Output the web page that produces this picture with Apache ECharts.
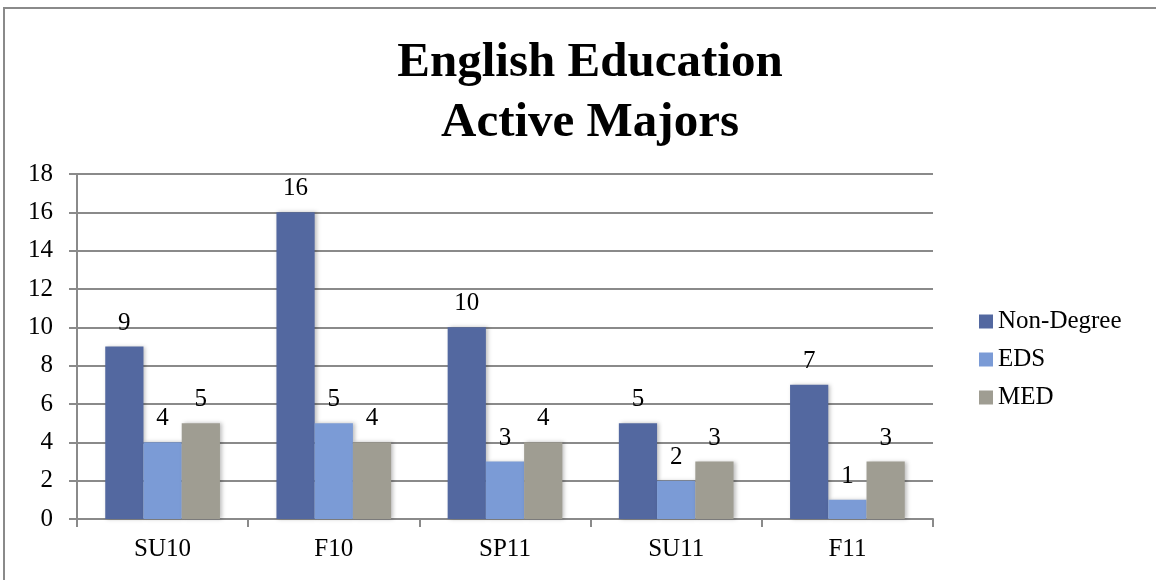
<!DOCTYPE html>
<html>
<head>
<meta charset="utf-8">
<script src="https://cdn.jsdelivr.net/npm/echarts@6/dist/echarts.min.js"></script>
<style>html,body{margin:0;padding:0;background:#fff}#c{width:1156px;height:580px}</style>
</head>
<body>
<div id="c"></div>
<script>
const categories = ['SU10', 'F10', 'SP11', 'SU11', 'F11'];
const nonDegree = [9, 16, 10, 5, 7];
const eds = [4, 5, 3, 2, 1];
const med = [5, 4, 4, 3, 3];
const seriesNames = ['Non-Degree', 'EDS', 'MED'];
const yTicks = {min: 0, max: 18, interval: 2};

const font = 'Liberation Serif';
const colors = ['#5368a0', '#7b9bd6', '#9f9d92'];
const chart = echarts.init(document.getElementById('c'));
const mk = (name, data, color) => ({
  name, type: 'bar', data, barGap: '0%', barCategoryGap: '33%',
  itemStyle: {color, shadowColor: 'rgba(0,0,0,0.25)', shadowBlur: 4, shadowOffsetX: 2, shadowOffsetY: 0},
  label: {show: true, position: 'top', distance: 11, color: '#000', fontFamily: font, fontSize: 25},
  emphasis: {disabled: true}
});
chart.setOption({
  animation: false,
  color: colors,
  textStyle: {fontFamily: font},
  title: {
    text: 'English Education\nActive Majors', left: 585, textAlign: 'center', top: 28,
    textStyle: {fontFamily: font, fontWeight: 'bold', fontSize: 49, lineHeight: 60, color: '#000'}
  },
  legend: {
    orient: 'vertical', left: 974, top: 304, itemWidth: 14, itemHeight: 14, itemGap: 13,
    icon: 'rect', data: seriesNames,
    textStyle: {fontFamily: font, fontSize: 25, color: '#000'}
  },
  graphic: [{type: 'rect', shape: {x: 4, y: 8, width: 1170, height: 590}, style: {fill: null, stroke: '#8a8a8a', lineWidth: 2}, z: 100}],
  grid: {left: 77, right: 223, top: 174, bottom: 61},
  xAxis: {
    type: 'category', data: categories,
    axisLine: {lineStyle: {color: '#8a8a8a', width: 2}},
    axisTick: {show: true, length: 8, lineStyle: {color: '#8a8a8a', width: 2}},
    axisLabel: {fontFamily: font, fontSize: 25, color: '#000', margin: 18}
  },
  yAxis: {
    type: 'value', min: yTicks.min, max: yTicks.max, interval: yTicks.interval,
    axisLine: {show: true, lineStyle: {color: '#8a8a8a', width: 2}},
    axisTick: {show: true, length: 8, lineStyle: {color: '#8a8a8a', width: 2}},
    splitLine: {lineStyle: {color: '#8a8a8a', width: 2}},
    axisLabel: {fontFamily: font, fontSize: 25, color: '#000', margin: 24}
  },
  series: [mk(seriesNames[0], nonDegree, colors[0]), mk(seriesNames[1], eds, colors[1]), mk(seriesNames[2], med, colors[2])]
});
</script>
</body>
</html>
